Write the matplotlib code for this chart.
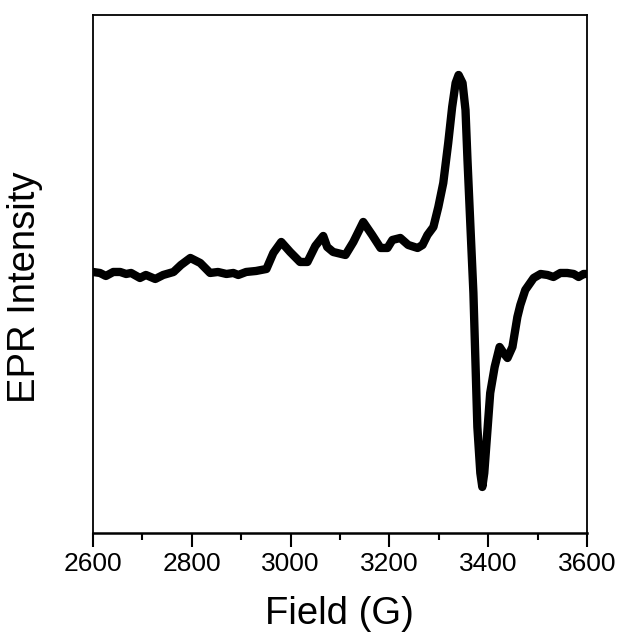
import numpy as np
import matplotlib.pyplot as plt

plt.rcParams['font.family'] = ['Liberation Sans', 'DejaVu Sans']

# EPR spectrum (arbitrary intensity units)
field = [2600, 2614, 2626, 2641, 2655, 2667, 2677, 2695, 2707, 2726,
         2742, 2763, 2778, 2797, 2817, 2837, 2853, 2870, 2884, 2894,
         2910, 2930, 2951, 2965, 2981, 2999, 3019, 3034, 3050, 3066,
         3074, 3086, 3111, 3127, 3147, 3165, 3182, 3196, 3206, 3222,
         3238, 3257, 3267, 3277, 3289, 3299, 3309, 3319, 3327, 3334,
         3340, 3348, 3354, 3358, 3364, 3370, 3374, 3378, 3384, 3388,
         3392, 3398, 3404, 3413, 3423, 3431, 3439, 3449, 3459, 3465,
         3475, 3492, 3506, 3520, 3532, 3546, 3560, 3573, 3583, 3593, 3600]
intensity = [0, -1, -4, 0, 0, -2, -1, -6, -3, -7,
             -3, 0, 7, 14, 9, -1, 0, -2, -1, -3,
             0, 1, 3, 19, 30, 20, 10, 10, 26, 36,
             25, 20, 17, 30, 50, 37, 24, 24, 32, 34,
             27, 24, 27, 37, 45, 65, 89, 129, 165, 189,
             197, 189, 162, 112, 45, -21, -88, -155, -201, -215,
             -201, -161, -121, -95, -75, -81, -86, -75, -45, -33,
             -18, -6, -2, -3, -5, -1, -1, -2, -5, -2, -2]

fig = plt.figure(figsize=(6.21, 6.37), dpi=100)
ax = fig.add_axes([0.1498, 0.1633, 0.7955, 0.8132])

ax.plot(field, intensity, color='black', lw=6, solid_capstyle='round',
        solid_joinstyle='round')

ax.set_xlim(2600, 3600)
ax.set_ylim(-261, 257)
ax.set_xticks(np.arange(2600, 3601, 200))
ax.set_xticks(np.arange(2700, 3600, 200), minor=True)
ax.set_yticks([])
ax.tick_params(axis='x', which='major', length=10, width=1.5, labelsize=19, pad=4)
ax.tick_params(axis='x', which='minor', length=5, width=1.5)
for s in ax.spines.values():
    s.set_linewidth(1.3)
ax.spines['bottom'].set_linewidth(1.8)

ax.set_xlabel('Field (G)', fontsize=27.5)
ax.set_ylabel('EPR Intensity', fontsize=27.5)
ax.xaxis.set_label_coords(0.4995, -0.1216)
ax.yaxis.set_label_coords(-0.101, 0.475)

fig.savefig('out.png', dpi=100)
